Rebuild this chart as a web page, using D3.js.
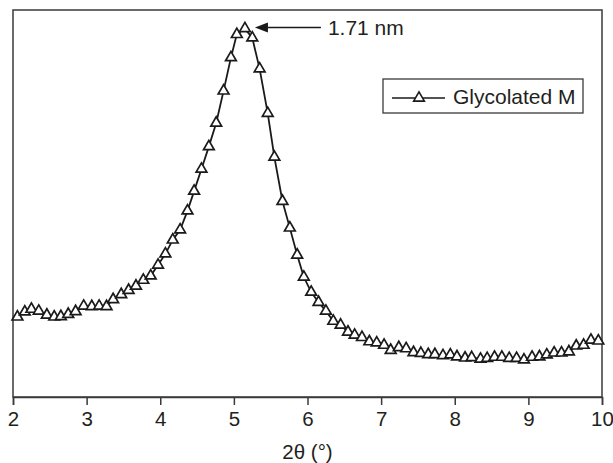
<!DOCTYPE html>
<html>
<head>
<meta charset="utf-8">
<script src="https://cdn.jsdelivr.net/npm/d3@7"></script>
<style>
  body { margin: 0; background: #fff; }
  text { font-family: "Liberation Sans", Arial, sans-serif; fill: #231f20; }
</style>
</head>
<body>
<div id="chart"></div>
<script>
// 2-theta positions
const twoTheta = [
  2.06, 2.16, 2.25, 2.35, 2.46, 2.56, 2.65, 2.75, 2.85, 2.96,
  3.07, 3.17, 3.27, 3.36, 3.47, 3.57, 3.67, 3.77, 3.87, 3.97,
  4.07, 4.17, 4.27, 4.37, 4.46, 4.56, 4.66, 4.76, 4.86, 4.96,
  5.04, 5.15, 5.25, 5.35, 5.46, 5.55, 5.66, 5.76, 5.86, 5.95,
  6.05, 6.15, 6.25, 6.35, 6.45, 6.55, 6.64, 6.74, 6.84, 6.94,
  7.04, 7.13, 7.24, 7.34, 7.44, 7.54, 7.64, 7.73, 7.84, 7.94,
  8.03, 8.14, 8.23, 8.35, 8.44, 8.54, 8.64, 8.74, 8.84, 8.94,
  9.05, 9.15, 9.25, 9.35, 9.45, 9.55, 9.65, 9.75, 9.85, 9.95
];
// intensity, arbitrary units
const intensity = [
  20.7, 22.0, 22.7, 22.2, 21.2, 20.7, 20.8, 21.4, 22.1, 23.5,
  23.4, 23.5, 23.4, 25.2, 26.5, 27.6, 28.7, 30.2, 31.3, 34.1,
  37.0, 40.6, 43.2, 48.1, 53.2, 58.9, 64.7, 70.8, 79.1, 87.7,
  93.7, 95.2, 92.8, 84.8, 73.3, 62.0, 50.6, 43.7, 36.7, 31.0,
  27.1, 24.5, 22.2, 19.6, 18.6, 16.8, 16.0, 15.4, 14.3, 14.0,
  13.4, 12.1, 12.8, 12.5, 11.5, 11.3, 11.0, 11.0, 10.7, 10.9,
  10.4, 10.1, 10.2, 9.8, 10.0, 10.3, 10.3, 10.0, 10.0, 9.6,
  10.3, 10.4, 10.9, 11.4, 11.4, 11.7, 13.2, 13.4, 14.7, 14.5
];
const xTicks = [2, 3, 4, 5, 6, 7, 8, 9, 10];
const seriesName = "Glycolated M";
const peakLabel = "1.71 nm";
const peakIndex = 31;

const data = twoTheta.map((t, i) => ({x: t, y: intensity[i]}));

const margin = {top: 10, right: 11, bottom: 66, left: 13};
const width = 613 - margin.left - margin.right;
const height = 463 - margin.top - margin.bottom;

const svg = d3.select("#chart")
    .append("svg")
    .attr("width", 613)
    .attr("height", 463)
    .append("g")
    .attr("transform", `translate(${margin.left},${margin.top})`);

const x = d3.scaleLinear().domain([2, 10]).range([0, width]);
const y = d3.scaleLinear().domain([0, 100]).range([height, 0]);

// frame
svg.append("rect")
    .attr("width", width)
    .attr("height", height)
    .attr("fill", "none")
    .attr("stroke", "#3a3a3a")
    .attr("stroke-width", 1.5);

// x axis
const xAxis = svg.append("g")
    .attr("transform", `translate(0,${height})`)
    .call(d3.axisBottom(x).tickValues(xTicks).tickSize(8).tickPadding(6).tickFormat(d3.format("d")));
xAxis.select(".domain").attr("stroke", "#3a3a3a").attr("stroke-width", 1.5);
xAxis.selectAll(".tick line").attr("stroke", "#3a3a3a").attr("stroke-width", 1.5);
xAxis.selectAll("text")
    .style("font-size", "20.5px")
    .style("font-family", "'Liberation Sans', Arial, sans-serif")
    .attr("fill", "#231f20");

svg.append("text")
    .attr("x", width / 2)
    .attr("y", height + 62)
    .style("text-anchor", "middle")
    .style("font-size", "20.5px")
    .text("2θ (°)");

// curve
const line = d3.line().x(d => x(d.x)).y(d => y(d.y));
svg.append("path")
    .datum(data)
    .attr("d", line)
    .attr("fill", "none")
    .attr("stroke", "#1a1a1a")
    .attr("stroke-width", 1.8);

const tri = d3.symbol().type(d3.symbolTriangle).size(50);
svg.selectAll(".pt")
    .data(data)
    .join("path")
    .attr("class", "pt")
    .attr("transform", d => `translate(${x(d.x)},${y(d.y)})`)
    .attr("d", tri)
    .attr("fill", "#fff")
    .attr("stroke", "#1a1a1a")
    .attr("stroke-width", 1.7);

// peak annotation
const peak = data[peakIndex];
const tipX = x(peak.x) + 10;
const tipY = y(peak.y) - 1;
svg.append("path")
    .attr("d", `M${tipX},${tipY} L${tipX + 13},${tipY - 5} L${tipX + 13},${tipY + 5} Z`)
    .attr("fill", "#1a1a1a");
svg.append("line")
    .attr("x1", tipX + 12)
    .attr("x2", tipX + 66)
    .attr("y1", tipY)
    .attr("y2", tipY)
    .attr("stroke", "#1a1a1a")
    .attr("stroke-width", 1.5);
svg.append("text")
    .attr("x", tipX + 73)
    .attr("y", tipY + 7)
    .style("font-size", "21px")
    .text(peakLabel);

// legend
const legend = svg.append("g")
    .attr("transform", `translate(${width - 219},${69})`);
legend.append("rect")
    .attr("width", 200)
    .attr("height", 34)
    .attr("fill", "#fff")
    .attr("stroke", "#3a3a3a")
    .attr("stroke-width", 1.3);
legend.append("line")
    .attr("x1", 9)
    .attr("x2", 62)
    .attr("y1", 19)
    .attr("y2", 19)
    .attr("stroke", "#1a1a1a")
    .attr("stroke-width", 1.6);
legend.append("path")
    .attr("transform", "translate(36,19)")
    .attr("d", tri)
    .attr("fill", "#fff")
    .attr("stroke", "#1a1a1a")
    .attr("stroke-width", 1.6);
legend.append("text")
    .attr("x", 70)
    .attr("y", 25)
    .style("font-size", "21px")
    .text(seriesName);
</script>
</body>
</html>
